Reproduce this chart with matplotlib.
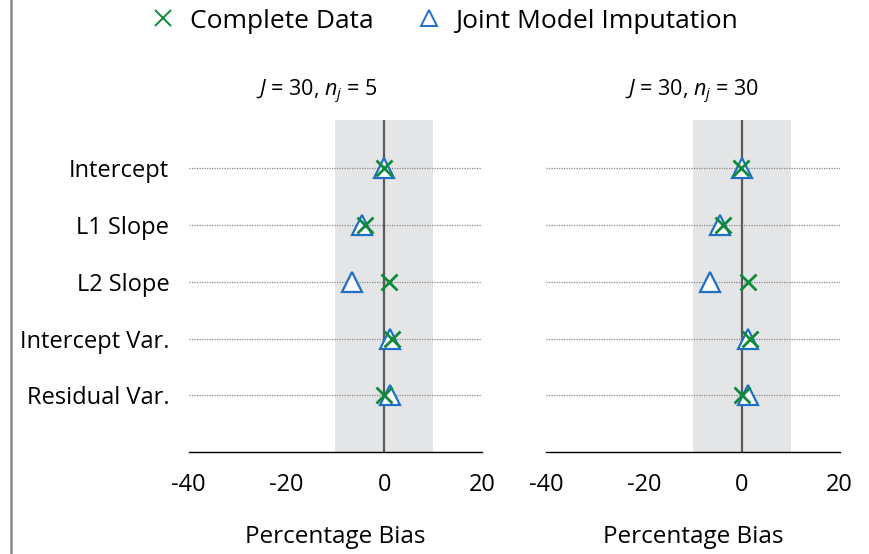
import matplotlib
matplotlib.use("Agg")
import matplotlib.pyplot as plt
from matplotlib.lines import Line2D

plt.rcParams['font.family'] = ['Open Sans', 'DejaVu Sans']
plt.rcParams['mathtext.fontset'] = 'custom'
plt.rcParams['mathtext.it'] = 'Open Sans:italic'
plt.rcParams['mathtext.rm'] = 'Open Sans'

params = ["Intercept", "L1 Slope", "L2 Slope", "Intercept Var.", "Residual Var."]
panel_titles = [r"$J$ = 30, $n_j$ = 5", r"$J$ = 30, $n_j$ = 30"]

# percentage bias, one list per panel
complete_data = [
    [0.0, -3.9, 1.0, 1.5, 0.0],
    [-0.2, -3.8, 1.2, 1.6, 0.0],
]
joint_model = [
    [-0.1, -4.5, -6.7, 1.1, 1.2],
    [0.0, -4.5, -6.6, 1.2, 1.3],
]
xticks = [-40, -20, 0, 20]

green = "#0e8a3a"
blue = "#1f6fc6"

fig = plt.figure(figsize=(8.7, 5.54), dpi=100)
ax_pos = [[0.217, 0.184, 0.337, 0.599], [0.628, 0.184, 0.337, 0.599]]
title_x = [317, 692]

ypos = list(range(1, len(params) + 1))

for i in range(2):
    ax = fig.add_axes(ax_pos[i])
    ax.axvspan(-10, 10, color="#e4e5e7", zorder=0, lw=0)
    for y in ypos:
        ax.axhline(y, color="#888888", ls=(0, (1, 1)), lw=0.9, zorder=1)
    ax.axvline(0, color="#5a5a5a", lw=1.6, zorder=2)
    ax.plot(joint_model[i], ypos, ls="none", marker="^", ms=14, mfc="white",
            mec=blue, mew=1.6, zorder=3)
    ax.plot(complete_data[i], ypos, ls="none", marker="x", ms=12, mec=green,
            mew=2.0, zorder=4)
    ax.set_xlim(-40, 20)
    ax.set_ylim(6, 0.15)
    ax.set_xticks(xticks)
    ax.set_xticklabels([str(t) for t in xticks], fontsize=17)
    ax.tick_params(axis="x", length=0, pad=15)
    ax.tick_params(axis="y", length=0, pad=14)
    if i == 0:
        ax.set_yticks(ypos)
        ax.set_yticklabels(params, fontsize=17)
    else:
        ax.set_yticks([])
    for s in ["top", "right", "left"]:
        ax.spines[s].set_visible(False)
    ax.spines["bottom"].set_linewidth(1.0)
    ax.set_xlabel("Percentage Bias", fontsize=17.5, labelpad=20)
    fig.text(title_x[i] / 870, 1 - 92 / 554, panel_titles[i], fontsize=15.5,
             ha="center", va="center")

handles = [
    Line2D([], [], ls="none", marker="x", ms=11, mec=green, mew=1.4),
    Line2D([], [], ls="none", marker="^", ms=11, mfc="white", mec=blue, mew=1.4),
]
fig.legend(handles, ["Complete Data", "Joint Model Imputation"], loc="center",
           bbox_to_anchor=(444 / 870, 1 - 21 / 554), ncol=2, frameon=False,
           fontsize=19, handletextpad=0.5, columnspacing=1.6, handlelength=1.0)

fig.add_artist(Line2D([11 / 870, 11 / 870], [0, 1], color="#888888", lw=1.8))

fig.savefig("out.png", dpi=100)
